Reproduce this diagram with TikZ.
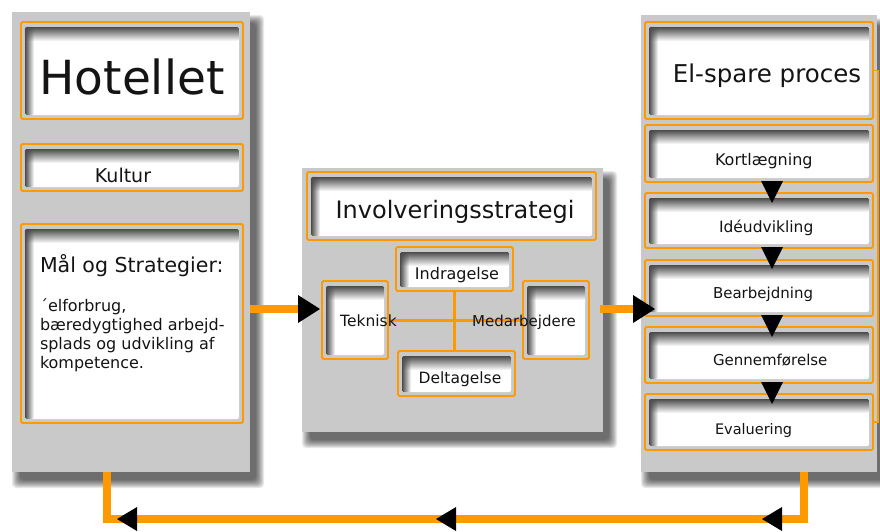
\documentclass[tikz,border=0pt]{standalone}
\usepackage{fontspec}
\setmainfont{DejaVu Sans}
\usetikzlibrary{calc,fadings,backgrounds}
\definecolor{orng}{RGB}{255,153,0}
\definecolor{panelgray}{RGB}{201,201,201}
\definecolor{txt}{RGB}{20,20,20}
\tikzset{
  panel/.style={fill=panelgray, inner sep=0pt, outer sep=0pt},
  ibox/.style={fill=panelgray, draw=orng, line width=1.8pt, rounded corners=1.5pt,
    inner sep=0pt, outer sep=0pt,
    path picture={
      \fill[white] ($(path picture bounding box.north west)+(4,-5)$) rectangle ($(path picture bounding box.south east)+(-4,4)$);
      \fill[black!70, path fading=south] ($(path picture bounding box.north west)+(4,-5)$) rectangle ($(path picture bounding box.north east)+(-4,-19)$);
      \fill[black!70, path fading=east] ($(path picture bounding box.north west)+(4,-5)$) rectangle ($(path picture bounding box.south west)+(13,4)$);
    }},
  lbl/.style={text=txt, inner sep=0pt, outer sep=0pt},
  conn/.style={draw=orng, line width=8pt, line join=miter},
  innerline/.style={draw=orng, line width=3pt},
  loopline/.style={draw=orng, line width=1.6pt},
  pics/rtri/.style={code={\fill[black] (0,0) -- (-22,14) -- (-22,-14) -- cycle;}},
  pics/ltri/.style={code={\fill[black] (0,0) -- (20,12) -- (20,-12) -- cycle;}},
  pics/dtri/.style={code={\fill[black] (0,0) -- (-11,22) -- (11,22) -- cycle;}},
}
\newcommand\ibox[5]{%
  \pgfmathsetmacro\bw{#4-#2}\pgfmathsetmacro\bh{#5-#3}%
  \pgfmathsetmacro\bx{(#2+#4)/2}\pgfmathsetmacro\by{-(#3+#5)/2}%
  \node[ibox, minimum width=\bw pt, minimum height=\bh pt] (#1) at (\bx,\by) {};}
\begin{document}
\begin{tikzpicture}[x=1pt,y=1pt]
\useasboundingbox (0,0) rectangle (880,-531);
% panels
\node[panel, minimum width=238pt, minimum height=460pt] (P1) at (131,-242) {};
\node[panel, minimum width=301pt, minimum height=264pt] (P2) at (452.5,-300) {};
\node[panel, minimum width=236pt, minimum height=457pt] (P3) at (759,-243.5) {};
\begin{scope}[on background layer]
  \fill[white] (0,0) rectangle (880,-531);
  \foreach \p in {P1,P2,P3}{
    \foreach \d in {8,7,...,0}{
      \fill[black, opacity=0.085, rounded corners=4pt] ($(\p.north west)+(8-\d,-11+\d)$) rectangle ($(\p.south east)+(6+\d,-8-\d)$);
    }
  }
\end{scope}
% left panel boxes
\ibox{hot}{21}{22}{243}{119}
\ibox{kul}{21}{144}{243}{191}
\ibox{mal}{21}{224}{243}{423}
% middle panel boxes
\ibox{inv}{307}{172}{596}{240}
\ibox{ind}{396}{247}{513}{291}
\ibox{tek}{322}{281}{388}{359}
\ibox{med}{523}{281}{589}{359}
\ibox{del}{398}{351}{515}{396}
% right panel boxes
\ibox{els}{645}{22}{873}{119}
\ibox{kor}{645}{125}{873}{182}
\ibox{ide}{645}{193}{873}{248}
\ibox{bea}{645}{260}{873}{316}
\ibox{gen}{645}{327}{873}{383}
\ibox{eva}{645}{394}{873}{450}
% inner lines of the middle panel
\draw[innerline] (tek.east) -- (med.west);
\draw[innerline] (ind.south) -- (ind.south |- del.north);
% loop on the right edge
\draw[loopline] (eva.east) -- ++(5,0) |- (els.east);
% connectors
\coordinate (y309) at (0,-309);
\coordinate (ybot) at (0,-519);
\coordinate (xr) at (804,0);
\coordinate (xl) at (107,0);
\coordinate (xd) at (772,0);
\draw[conn] (P1.east |- y309) -- ($(tek.west |- y309)+(-20,0)$);
\pic at ($(tek.west |- y309)+(-2,0)$) {rtri};
\draw[conn] ($(P2.east |- y309)+(-3,0)$) -- ($(bea.west |- y309)+(-8,0)$);
\pic at ($(bea.west |- y309)+(10,0)$) {rtri};
\draw[conn] (xr |- P3.south) -- (xr |- ybot) -- (xl |- ybot) -- (xl |- P1.south);
\pic at (762,-519) {ltri};
\pic at (436,-519) {ltri};
\pic at (117,-519) {ltri};
% down arrows in the right panel
\pic at ($(xd |- kor.south)+(0,-21)$) {dtri};
\pic at ($(xd |- ide.south)+(0,-21)$) {dtri};
\pic at ($(xd |- bea.south)+(0,-21)$) {dtri};
\pic at ($(xd |- gen.south)+(0,-21)$) {dtri};
% texts
\node[lbl, font=\fontsize{47}{50}\selectfont, anchor=base] (thot) at (132,-94) {Hotellet};
\node[lbl, font=\fontsize{19}{22}\selectfont, anchor=base] (tkul) at (123,-182) {Kultur};
\node[lbl, font=\fontsize{20.5}{24}\selectfont, anchor=base west] (tmal) at (40,-272) {Mål og Strategier:};
\node[lbl, font=\fontsize{16}{19}\selectfont, anchor=base west] (tm1) at (40,-311.5) {´elforbrug,};
\node[lbl, font=\fontsize{16}{19}\selectfont, anchor=base west] (tm2) at (40,-330.5) {bæredygtighed arbejd-};
\node[lbl, font=\fontsize{16}{19}\selectfont, anchor=base west] (tm3) at (40,-349.5) {splads og udvikling af};
\node[lbl, font=\fontsize{16}{19}\selectfont, anchor=base west] (tm4) at (40,-368.5) {kompetence.};
\node[lbl, font=\fontsize{24}{28}\selectfont, anchor=base] (tinv) at (455,-218) {Involveringsstrategi};
\node[lbl, font=\fontsize{16}{19}\selectfont, anchor=base] (tind) at (457,-279) {Indragelse};
\node[lbl, font=\fontsize{15.5}{19}\selectfont, anchor=base] (ttek) at (368.5,-326) {Teknisk};
\node[lbl, font=\fontsize{15}{19}\selectfont, anchor=base] (tmed) at (524,-326) {Medarbejdere};
\node[lbl, font=\fontsize{15.5}{19}\selectfont, anchor=base] (tdel) at (460,-383) {Deltagelse};
\node[lbl, font=\fontsize{24.5}{28}\selectfont, anchor=base] (tels) at (767,-82) {El-spare proces};
\node[lbl, font=\fontsize{16}{19}\selectfont, anchor=base west] (tkor) at (715,-165) {Kortlægning};
\node[lbl, font=\fontsize{15.5}{19}\selectfont, anchor=base west] (tide) at (719,-232) {Idéudvikling};
\node[lbl, font=\fontsize{15}{19}\selectfont, anchor=base west] (tbea) at (713,-298) {Bearbejdning};
\node[lbl, font=\fontsize{15}{19}\selectfont, anchor=base west] (tgen) at (713,-365) {Gennemførelse};
\node[lbl, font=\fontsize{14.5}{19}\selectfont, anchor=base west] (teva) at (715,-434) {Evaluering};
\end{tikzpicture}
\end{document}
